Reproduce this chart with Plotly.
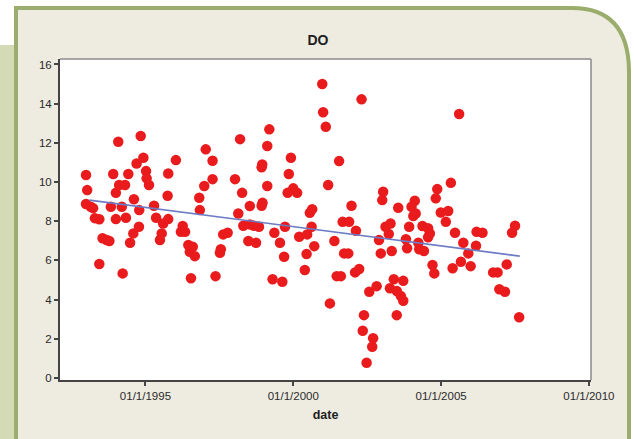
import plotly.graph_objects as go

# ---- data (decimal year, DO value) ----
years = [
    1992.99, 1993.03, 1992.99, 1993.15, 1993.23, 1993.29, 1993.44, 1993.55, 1993.69, 1993.78,
    1993.44, 1993.91, 1994.08, 1994.00, 1994.11, 1994.31, 1994.42, 1993.83, 1994.20, 1994.00,
    1994.34, 1994.23, 1994.70, 1994.84, 1994.93, 1995.02, 1995.04, 1995.12, 1994.61, 1994.79,
    1994.78, 1994.59, 1994.48, 1995.29, 1995.36, 1995.77, 1996.03, 1995.75, 1995.77, 1995.60,
    1995.55, 1995.49, 1996.26, 1996.34, 1996.20, 1996.45, 1996.60, 1996.50, 1996.67, 1996.54,
    1997.04, 1997.27, 1997.27, 1996.99, 1996.82, 1996.84, 1997.63, 1997.78, 1997.55, 1997.52,
    1997.37, 1998.20, 1998.03, 1998.27, 1998.14, 1998.53, 1998.31, 1998.53, 1998.67, 1998.84,
    1998.48, 1998.74, 1999.19, 1999.12, 1998.95, 1998.93, 1999.12, 1998.96, 1998.93, 1999.36,
    1999.55, 1999.69, 1999.30, 1999.63, 1999.92, 1999.85, 2000.00, 2000.13, 1999.81, 1999.72,
    2000.20, 2000.47, 2000.62, 2000.56, 2000.64, 2000.45, 2000.71, 2000.39, 2000.98, 2001.01,
    2001.10, 2001.18, 2001.24,
    2002.31, 2001.55, 2001.97, 2001.67, 2001.89, 2002.12, 2001.39, 2001.72, 2001.86, 2001.47,
    2001.61, 2002.09, 2002.23, 2002.39, 2002.35, 2002.70, 2002.67, 2002.48, 2002.57, 2002.82,
    2003.04, 2003.01, 2003.55, 2002.90, 2002.96, 2003.33, 2003.12, 2003.29, 2003.23, 2003.40,
    2003.72, 2003.27, 2003.50, 2003.64, 2003.72, 2003.50, 2004.11, 2004.00, 2004.14, 2004.06,
    2003.92, 2003.81, 2003.85, 2004.23, 2004.26, 2004.42, 2004.37, 2004.56, 2004.62, 2004.56,
    2004.71, 2004.77, 2004.87, 2004.82, 2004.99, 2005.24, 2005.16, 2005.33, 2005.47, 2005.39,
    2005.61, 2005.75, 2005.92, 2005.67, 2006.00, 2006.18, 2006.20, 2006.40, 2006.76, 2006.91,
    2006.97, 2007.16, 2007.22, 2007.40, 2007.50, 2007.64,
]
do_values = [
    10.36, 9.59, 8.88, 8.74, 8.67, 8.16, 8.10, 7.13, 7.04, 6.99,
    5.82, 10.41, 12.06, 9.45, 9.85, 9.85, 10.41, 8.74, 8.74, 8.11,
    8.18, 5.34, 10.95, 12.35, 11.24, 10.56, 10.19, 9.85, 9.12, 8.57,
    7.72, 7.38, 6.90, 8.79, 8.18, 10.44, 11.12, 9.30, 8.11, 7.89,
    7.38, 7.04, 7.76, 7.46, 7.46, 6.79, 6.70, 6.44, 6.22, 5.09,
    11.67, 11.09, 10.15, 9.80, 9.20, 8.57, 7.33, 7.41, 6.57, 6.39,
    5.20, 12.19, 10.15, 9.45, 8.40, 8.78, 7.77, 7.84, 7.77, 7.72,
    6.99, 6.90, 12.69, 11.84, 10.90, 10.75, 9.80, 8.94, 8.79, 7.41,
    6.90, 6.19, 5.04, 4.91, 11.24, 10.41, 9.68, 9.45, 9.45, 7.72,
    7.21, 7.33, 7.72, 8.43, 8.61, 6.33, 6.73, 5.51, 15.00, 13.56,
    12.82, 9.85, 3.81,
    14.22, 11.07, 8.79, 7.97, 7.97, 7.52, 6.99, 6.36, 6.36, 5.20,
    5.20, 5.39, 5.56, 3.21, 2.41, 2.03, 1.60, 0.78, 4.40, 4.69,
    9.51, 9.08, 8.69, 7.04, 6.36, 6.48, 7.72, 7.89, 7.35, 5.04,
    4.96, 4.58, 4.44, 4.18, 3.94, 3.21, 9.05, 8.74, 8.40, 8.27,
    7.72, 7.08, 6.62, 6.90, 6.57, 6.48, 7.76, 7.64, 7.38, 7.18,
    5.77, 5.34, 9.64, 9.17, 8.45, 8.52, 7.97, 9.96, 7.41, 5.60,
    13.47, 6.90, 6.36, 5.93, 5.71, 6.75, 7.46, 7.41, 5.39, 5.39,
    4.53, 4.40, 5.80, 7.41, 7.77, 3.10,
]
trend_years = [1993.10, 2007.66]
trend_values = [9.08, 6.22]

x_tick_vals = [1995, 2000, 2005, 2010]
x_tick_text = ["01/1/1995", "01/1/2000", "01/1/2005", "01/1/2010"]
y_tick_vals = [0, 2, 4, 6, 8, 10, 12, 14, 16]

# ---- figure ----
W, H = 634, 439
L, R, T, B = 60, 591, 59, 380


def px(x):
    return (x - L) / (R - L)


def py(y):
    return (B - y) / (B - T)


fig = go.Figure()
fig.add_trace(go.Scatter(
    x=years, y=do_values, mode="markers",
    marker=dict(color="#ea1b1d", size=10.5, line=dict(width=0)),
    showlegend=False, hoverinfo="x+y",
))
fig.add_trace(go.Scatter(
    x=trend_years, y=trend_values, mode="lines",
    line=dict(color="#6c7bc4", width=1.6),
    showlegend=False, hoverinfo="skip",
))

shapes = []
# light green strip on the left
shapes.append(dict(type="rect", xref="paper", yref="paper", layer="below",
                   x0=px(-5), x1=px(16), y0=py(445), y1=py(45),
                   fillcolor="#d3dab5", line=dict(width=0)))
# beige frame with rounded top-right corner
path = (f"M {px(16)},{py(445)} L {px(16)},{py(8)} L {px(572)},{py(8)} "
        f"Q {px(628)},{py(8)} {px(629)},{py(70)} L {px(629)},{py(445)} Z")
shapes.append(dict(type="path", xref="paper", yref="paper", layer="below",
                   path=path, fillcolor="#eeebe0",
                   line=dict(color="#9bad6c", width=4)))
# white plot area
shapes.append(dict(type="rect", xref="paper", yref="paper", layer="below",
                   x0=0, x1=1, y0=0, y1=1, fillcolor="white", line=dict(width=0)))
# lighter top / right border of plot box
shapes.append(dict(type="line", xref="paper", yref="paper", layer="above",
                   x0=0, x1=1, y0=1, y1=1, line=dict(color="#8a8a8a", width=1.5)))
shapes.append(dict(type="line", xref="paper", yref="paper", layer="above",
                   x0=1, x1=1, y0=0, y1=1, line=dict(color="#8a8a8a", width=1.5)))

font_main = "Liberation Sans, Arial, sans-serif"

fig.update_layout(
    width=W, height=H,
    margin=dict(l=L, r=W - R, t=T, b=H - B),
    paper_bgcolor="white",
    plot_bgcolor="white",
    shapes=shapes,
    font=dict(family=font_main, size=11, color="#2a2a2a"),
    title=dict(text="<b>DO</b>", x=px(318), xanchor="center",
               y=1 - 40 / H, yanchor="middle", xref="paper",
               font=dict(size=14, color="#1e1e1e")),
    xaxis=dict(
        range=[1992.11, 2010.07], tickvals=x_tick_vals, ticktext=x_tick_text,
        showgrid=False, zeroline=False, showline=True, linecolor="#444444",
        linewidth=2, ticks="outside", ticklen=4, tickwidth=1.5, tickcolor="#444444",
        tickfont=dict(size=11.5, color="#2a2a2a"),
        title=dict(text="<b>date</b>", standoff=9, font=dict(size=12.5, color="#1e1e1e")),
    ),
    yaxis=dict(
        range=[-0.1, 16.28], tickvals=y_tick_vals,
        showgrid=False, zeroline=False, showline=True, linecolor="#444444",
        linewidth=2, ticks="outside", ticklen=4, tickwidth=1.5, tickcolor="#444444",
        tickfont=dict(size=11.5, color="#2a2a2a"),
    ),
)

fig.write_html(
    "out.html",
    config={"displayModeBar": False},
    post_script="document.body.style.margin='0';document.body.style.overflow='hidden';",
)
